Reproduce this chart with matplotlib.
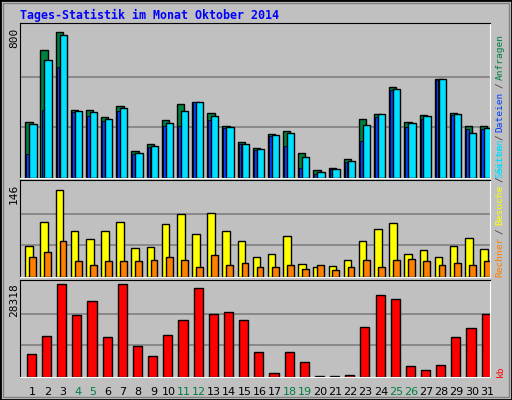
import matplotlib.pyplot as plt
from matplotlib.patches import Rectangle

days = list(range(1, 32))
weekend = [4, 5, 11, 12, 18, 19, 25, 26]

# daily values
hits = [296, 672, 771, 359, 359, 322, 380, 144, 181, 305, 389, 399, 342, 274, 190, 159, 232, 248, 133, 44, 54, 101, 310, 336, 477, 296, 333, 523, 342, 274, 274]
files = [127, 359, 586, 348, 328, 301, 354, 127, 164, 274, 274, 399, 305, 263, 180, 148, 221, 169, 54, 23, 49, 85, 195, 322, 462, 270, 312, 514, 333, 258, 258]
pages = [285, 622, 751, 352, 348, 312, 368, 132, 169, 290, 352, 399, 326, 268, 180, 153, 226, 237, 112, 33, 49, 91, 279, 336, 467, 290, 326, 519, 336, 237, 263]
visits = [48, 84, 134, 71, 59, 71, 84, 44, 46, 81, 96, 66, 99, 71, 55, 31, 35, 63, 20, 16, 17, 26, 56, 74, 83, 35, 41, 31, 48, 60, 43]
sites = [31, 38, 55, 25, 18, 25, 25, 25, 26, 31, 26, 16, 34, 19, 22, 16, 16, 18, 13, 18, 10, 16, 26, 16, 26, 28, 24, 18, 21, 19, 24]
kb = [6768, 12219, 27813, 18418, 22657, 11916, 27813, 9193, 6162, 12522, 17055, 26602, 18721, 19327, 16903, 7375, 1312, 7375, 4346, 404, 404, 707, 14944, 24380, 23168, 3133, 2225, 3436, 11916, 14641, 18822]

max_top, max_mid, max_kb = 800, 146, 28318

W, H = 512, 400
fig = plt.figure(figsize=(W / 100, H / 100), dpi=100, facecolor='#C0C0C0')
mono = 'DejaVu Sans Mono'

def px_axes(l, t, r, b):
    ax = fig.add_axes([l / W, 1 - b / H, (r - l) / W, (b - t) / H])
    ax.set_facecolor('#C0C0C0')
    ax.set_xlim(0, 31)
    ax.set_xticks([])
    ax.set_yticks([])
    for s in ['left', 'top']:
        ax.spines[s].set_color('black')
    for s in ['right', 'bottom']:
        ax.spines[s].set_color('white')
    return ax

def grid(ax, top):
    ax.set_ylim(0, top * 1.02)
    for f in (1 / 3, 2 / 3):
        ax.axhline(top * f, color='#808080', lw=1.2, zorder=0)

x0 = [d - 1 for d in days]

# top panel: hits / files / pages
ax1 = px_axes(20, 23, 490, 178)
grid(ax1, max_top)
ax1.bar([x + 0.35 for x in x0], hits, width=0.48, align='edge', color='#008040', edgecolor='black', lw=1, zorder=2)
ax1.bar([x + 0.42 for x in x0], files, width=0.18, align='edge', color='#0040FF', edgecolor='black', lw=0.6, zorder=3)
ax1.bar([x + 0.61 for x in x0], pages, width=0.48, align='edge', color='#00E0FF', edgecolor='black', lw=1, zorder=4)

# middle panel: visits / sites
ax2 = px_axes(20, 180, 490, 277)
grid(ax2, max_mid)
ax2.bar([x + 0.35 for x in x0], visits, width=0.5, align='edge', color='#FFFF00', edgecolor='black', lw=1, zorder=2)
ax2.bar([x + 0.61 for x in x0], sites, width=0.45, align='edge', color='#FF8000', edgecolor='black', lw=1, zorder=3)

# bottom panel: kb
ax3 = px_axes(20, 280, 490, 377)
grid(ax3, max_kb)
ax3.bar([x + 0.45 for x in x0], kb, width=0.6, align='edge', color='#FF0000', edgecolor='black', lw=1, zorder=2)

for d in days:
    c = '#008040' if d in weekend else 'black'
    ax3.text(d - 1 + 0.8, -0.1, str(d), transform=ax3.get_xaxis_transform(),
             ha='center', va='top', fontsize=8, color=c)

# left scale labels
fig.text(14 / W, 1 - 28 / H, '800', rotation=90, ha='center', va='top', fontsize=8, family=mono)
fig.text(14 / W, 1 - 184 / H, '146', rotation=90, ha='center', va='top', fontsize=8, family=mono)
fig.text(14 / W, 1 - 283 / H, '28318', rotation=90, ha='center', va='top', fontsize=8, family=mono)

# right side legends, stacked upward word by word
renderer = fig.canvas.get_renderer()

def stack(words, y_bottom):
    y = y_bottom
    for w, c in words:
        t = fig.text(500 / W, 1 - y / H, w, rotation=90, ha='center', va='bottom',
                     fontsize=6.8, family=mono, color=c)
        y -= t.get_window_extent(renderer).height + 3

stack([('Seiten', '#00E0FF'), ('/', '#404040'), ('Dateien', '#0040FF'),
       ('/', '#404040'), ('Anfragen', '#008040')], 178)
stack([('Rechner', '#FF8000'), ('/', '#404040'), ('Besuche', '#FFFF00'),
       ('/', '#404040'), ('Seiten', '#00E0FF')], 277)
stack([('kb', '#FF0000')], 377)

fig.text(20 / W, 1 - 15 / H, 'Tages-Statistik im Monat Oktober 2014', ha='left', va='center',
         fontsize=8.4, family=mono, weight='bold', color='#0000FF')

# frame
fig.patches.append(Rectangle((0, 0), 1, 1, transform=fig.transFigure, fill=False,
                             edgecolor='black', lw=2))
fig.patches.append(Rectangle((3 / W, 3 / H), 1 - 6 / W, 1 - 6 / H, transform=fig.transFigure,
                             fill=False, edgecolor='#808080', lw=1))

fig.savefig('out.png', dpi=100, facecolor=fig.get_facecolor())
